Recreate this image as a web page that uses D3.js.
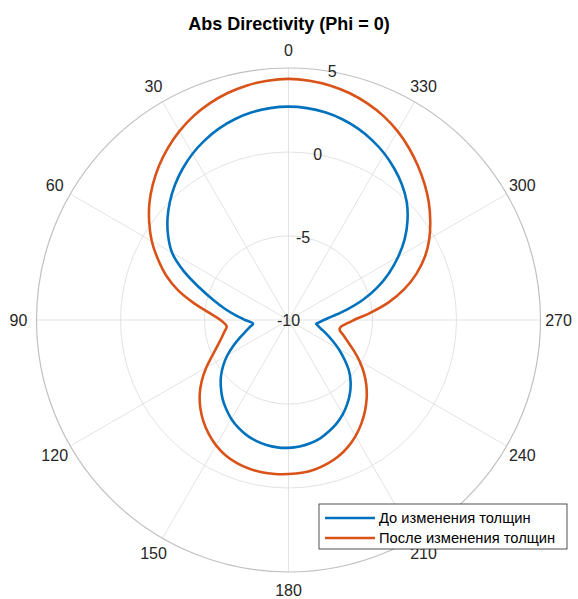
<!DOCTYPE html>
<html>
<head>
<meta charset="utf-8">
<script src="https://cdnjs.cloudflare.com/ajax/libs/d3/7.8.5/d3.min.js"></script>
<style>
  body { margin: 0; background: #fff; }
  text { font-family: "Liberation Sans", Arial, sans-serif; fill: #262626; }
</style>
</head>
<body>
<svg id="chart" width="578" height="599"></svg>
<script>
// angles (degrés, sens trigo depuis le haut)
var angles = [0,5,10,15,20,25,30,35,40,45,50,55,60,65,70,75,80,85,90,96,
              100,105,110,115,120,125,130,135,140,145,150,155,160,165,170,175,180,
              185,190,195,200,205,210,215,220,225,230,235,240,245,250,255,259,262,265,
              270,275,280,285,290,295,300,305,310,315,320,325,330,335,340,345,350,355];
// directivité avant changement (dB)
var avant = [2.70,2.66,2.55,2.37,2.12,1.80,1.43,0.99,0.51,-0.02,-0.6,-1.25,-2.0,-3.12,-4.35,-5.35,-6.15,-6.85,-7.42,-7.88,
             -7.68,-7.35,-6.92,-6.38,-5.8,-5.25,-4.75,-4.31,-3.89,-3.53,-3.2,-2.93,-2.71,-2.55,-2.44,-2.39,-2.39,
             -2.44,-2.55,-2.71,-2.95,-3.21,-3.53,-3.9,-4.31,-4.77,-5.3,-5.95,-6.55,-7.12,-7.6,-8.0,-8.22,-8.33,-8.2,
             -7.9,-7.35,-6.5,-5.45,-4.4,-3.4,-2.45,-1.55,-0.75,-0.05,0.51,0.99,1.43,1.80,2.12,2.37,2.55,2.66];
// directivité après changement (dB)
var apres = [4.35,4.30,4.18,3.99,3.72,3.39,2.98,2.51,1.99,1.42,0.81,0.12,-0.6,-1.42,-2.25,-3.2,-4.3,-5.3,-5.95,-6.3,
             -6.14,-5.87,-5.5,-5.0,-4.35,-3.7,-3.1,-2.58,-2.12,-1.72,-1.38,-1.12,-0.95,-0.85,-0.8,-0.8,-0.83,
             -0.87,-0.97,-1.13,-1.35,-1.65,-2.02,-2.45,-2.92,-3.42,-3.95,-4.52,-5.12,-5.72,-6.25,-6.65,-6.9,-6.88,-6.68,
             -6.1,-5.12,-3.95,-2.85,-1.88,-1.03,-0.32,0.3,0.9,1.45,1.98,2.5,2.98,3.39,3.72,3.99,4.18,4.30];

var rTicks = [-10,-5,0,5];
var thetaTicks = [0,30,60,90,120,150,180,210,240,270,300,330];
var seriesNames = ["До изменения толщин","После изменения толщин"];
var seriesColors = ["#0072BD","#D95319"];
var titre = "Abs Directivity (Phi = 0)";

var svg = d3.select("#chart");
var cx = 288.5, cy = 320, R = 252;
var r = d3.scaleLinear().domain([-10,5]).range([0,R]);
var rad = function(d) { return d*Math.PI/180; };

var g = svg.append("g").attr("transform","translate("+cx+","+cy+")");

// cercles de la grille
g.selectAll("circle.grid")
  .data(rTicks.slice(1,-1))
  .enter().append("circle")
  .attr("class","grid")
  .attr("r", function(d) { return r(d); })
  .style("fill","none")
  .style("stroke","#e3e3e3")
  .style("stroke-width",1);

// rayons tous les 30°
g.selectAll("line.spoke")
  .data(thetaTicks)
  .enter().append("line")
  .attr("class","spoke")
  .attr("x1",0).attr("y1",0)
  .attr("x2", function(d) { return -R*Math.sin(rad(d)); })
  .attr("y2", function(d) { return -R*Math.cos(rad(d)); })
  .style("stroke","#e3e3e3")
  .style("stroke-width",1);

// bord extérieur
g.append("circle")
  .attr("r", R)
  .style("fill","none")
  .style("stroke","#c0c0c0")
  .style("stroke-width",1.2);

// libellés des angles
g.selectAll("text.theta")
  .data(thetaTicks)
  .enter().append("text")
  .attr("class","theta")
  .attr("x", function(d) { return -(R+18)*Math.sin(rad(d)); })
  .attr("y", function(d) { return -(R+18)*Math.cos(rad(d)); })
  .attr("text-anchor","middle")
  .attr("dominant-baseline","central")
  .style("font-size","16px")
  .text(function(d) { return d; });

// courbes
var line = d3.lineRadial()
  .angle(function(d) { return -rad(d[0]); })
  .radius(function(d) { return r(d[1]); })
  .curve(d3.curveCatmullRomClosed.alpha(0.5));

[avant, apres].forEach(function(vals, i) {
  var pts = angles.map(function(a, k) { return [a, vals[k]]; });
  g.append("path")
    .datum(pts)
    .attr("d", line)
    .style("fill","none")
    .style("stroke", seriesColors[i])
    .style("stroke-width",2.6)
    .style("stroke-linejoin","round");
});

// libellés radiaux (à 350°)
g.selectAll("text.rtick")
  .data(rTicks)
  .enter().append("text")
  .attr("class","rtick")
  .attr("x", function(d) { return r(d)*Math.sin(rad(10)); })
  .attr("y", function(d) { return -r(d)*Math.cos(rad(10)); })
  .attr("text-anchor","middle")
  .attr("dominant-baseline","central")
  .style("font-size","16px")
  .text(function(d) { return d; });

// titre
svg.append("text")
  .attr("x", 289)
  .attr("y", 30)
  .attr("text-anchor","middle")
  .style("font-size","18px")
  .style("font-weight","bold")
  .style("fill","#000")
  .text(titre);

// légende
var legend = svg.append("g").attr("transform","translate(319,504)");
legend.append("rect")
  .attr("width",248).attr("height",45)
  .style("fill","#fff")
  .style("stroke","#262626")
  .style("stroke-width",0.8);
seriesNames.forEach(function(name, i) {
  var yy = 14 + i*20;
  legend.append("line")
    .attr("x1",6).attr("x2",56)
    .attr("y1",yy).attr("y2",yy)
    .style("stroke", seriesColors[i])
    .style("stroke-width",2.6);
  legend.append("text")
    .attr("x",60).attr("y",yy)
    .attr("dominant-baseline","central")
    .style("font-size","14.7px")
    .style("fill","#000")
    .text(name);
});
</script>
</body>
</html>
